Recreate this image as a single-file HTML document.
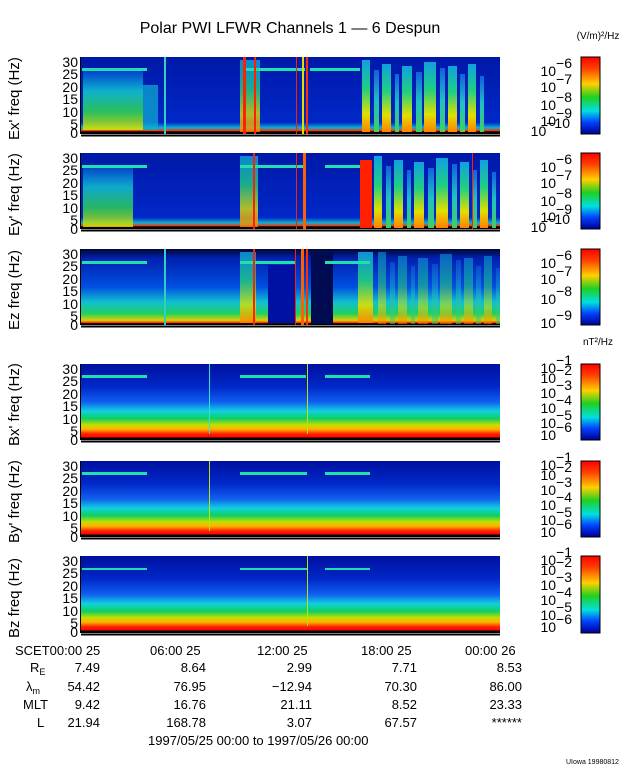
<!DOCTYPE html>
<html><head><meta charset="utf-8"><style>
body{margin:0;background:#fff}
svg{display:block}
text{font-family:"Liberation Sans",sans-serif;fill:#000}
</style></head><body>
<svg width="640" height="768" viewBox="0 0 640 768" xmlns="http://www.w3.org/2000/svg">
<defs>
<linearGradient id="cb" x1="0" y1="0" x2="0" y2="1">
<stop offset="0" stop-color="#ff0000"/><stop offset="0.15" stop-color="#ff4000"/><stop offset="0.35" stop-color="#ffd000"/><stop offset="0.52" stop-color="#20d020"/><stop offset="0.7" stop-color="#00e0e0"/><stop offset="0.85" stop-color="#0040ff"/><stop offset="1" stop-color="#000090"/>
</linearGradient>
<linearGradient id="bg" x1="0" y1="0" x2="0" y2="1">
<stop offset="0" stop-color="#0010a0"/><stop offset="0.3" stop-color="#0028c8"/><stop offset="0.5" stop-color="#1060f0"/><stop offset="0.62" stop-color="#10d0e0"/><stop offset="0.72" stop-color="#10d060"/><stop offset="0.8" stop-color="#c0e000"/><stop offset="0.86" stop-color="#ffb000"/><stop offset="0.92" stop-color="#ff2000"/><stop offset="0.97" stop-color="#ff0000"/><stop offset="0.97" stop-color="#000"/><stop offset="1" stop-color="#000"/>
</linearGradient>
<linearGradient id="eg" x1="0" y1="0" x2="0" y2="1">
<stop offset="0" stop-color="#0018a8"/><stop offset="0.85" stop-color="#0028c8"/><stop offset="0.92" stop-color="#10b0d0"/><stop offset="0.96" stop-color="#ff3000"/><stop offset="0.97" stop-color="#000"/><stop offset="1" stop-color="#000"/>
</linearGradient>
<linearGradient id="e3" x1="0" y1="0" x2="0" y2="1">
<stop offset="0" stop-color="#000830"/><stop offset="0.12" stop-color="#0020b0"/><stop offset="0.5" stop-color="#0050e0"/><stop offset="0.7" stop-color="#10c0d0"/><stop offset="0.85" stop-color="#20d060"/><stop offset="0.94" stop-color="#e0d000"/><stop offset="0.97" stop-color="#ff3000"/><stop offset="0.98" stop-color="#000"/>
</linearGradient>
<linearGradient id="act" x1="0" y1="0" x2="0" y2="1">
<stop offset="0" stop-color="#10a0e0"/><stop offset="0.4" stop-color="#20d080"/><stop offset="0.75" stop-color="#e0e000"/><stop offset="1" stop-color="#ff8000"/>
</linearGradient>
<linearGradient id="act2" x1="0" y1="0" x2="0" y2="1">
<stop offset="0" stop-color="#1060e0"/><stop offset="0.5" stop-color="#20c0c0"/><stop offset="1" stop-color="#40d060"/>
</linearGradient>
<linearGradient id="left" x1="0" y1="0" x2="0" y2="1">
<stop offset="0" stop-color="#0040d0"/><stop offset="0.35" stop-color="#10c0d0"/><stop offset="0.7" stop-color="#30d050"/><stop offset="1" stop-color="#e0e000"/>
</linearGradient>
<g id="str">
<rect x="0" y="0" width="8" height="72" fill="url(#act)"/>
<rect x="12" y="10" width="5" height="62" fill="url(#act2)"/>
<rect x="20" y="4" width="9" height="68" fill="url(#act)"/>
<rect x="33" y="14" width="4" height="58" fill="url(#act2)"/>
<rect x="40" y="6" width="10" height="66" fill="url(#act)"/>
<rect x="54" y="12" width="6" height="60" fill="url(#act2)"/>
<rect x="62" y="2" width="12" height="70" fill="url(#act)"/>
<rect x="78" y="8" width="5" height="64" fill="url(#act2)"/>
<rect x="86" y="6" width="9" height="66" fill="url(#act)"/>
<rect x="98" y="14" width="5" height="58" fill="url(#act2)"/>
<rect x="106" y="4" width="8" height="68" fill="url(#act)"/>
<rect x="118" y="16" width="4" height="56" fill="url(#act2)"/>
</g>
</defs>

<text x="290" y="33" font-size="16" text-anchor="middle">Polar PWI LFWR Channels 1 — 6 Despun</text>
<text x="598" y="39" font-size="10" text-anchor="middle">(V/m)²/Hz</text>
<text x="598" y="345" font-size="10" text-anchor="middle">nT²/Hz</text>

<!-- Panel 1 -->
<g>
<rect x="81" y="57" width="419" height="77" fill="url(#eg)"/>
<rect x="83" y="70" width="60" height="60" fill="url(#left)" opacity="0.9"/>
<rect x="143" y="85" width="15" height="45" fill="#10b0d0" opacity="0.7"/>
<rect x="240" y="60" width="20" height="72" fill="url(#act)" opacity="0.8"/>
<use href="#str" x="362" y="60"/>
<rect x="82" y="68" width="65" height="3" fill="#20e0b0"/>
<rect x="245" y="68" width="60" height="3" fill="#20e0b0"/>
<rect x="310" y="68" width="50" height="3" fill="#20e0b0"/>
<rect x="243" y="57" width="3" height="77" fill="#ff2000"/>
<rect x="254" y="57" width="2" height="77" fill="#ff2000"/>
<rect x="296" y="57" width="1" height="77" fill="#ff2000"/>
<rect x="302" y="57" width="2" height="77" fill="#e0e000"/>
<rect x="306" y="57" width="2" height="77" fill="#ff3000"/>
<rect x="164" y="57" width="2" height="77" fill="#30d0c0"/>
</g>
<!-- Panel 2 -->
<g>
<rect x="81" y="153" width="419" height="76" fill="url(#eg)"/>
<rect x="83" y="165" width="50" height="62" fill="url(#left)" opacity="0.85"/>
<rect x="240" y="156" width="18" height="71" fill="url(#act)" opacity="0.8"/>
<use href="#str" x="374" y="156"/>
<rect x="360" y="160" width="12" height="68" fill="#ff2000"/>
<rect x="82" y="165" width="65" height="3" fill="#20e0b0"/>
<rect x="240" y="165" width="65" height="3" fill="#20e0b0"/>
<rect x="325" y="165" width="35" height="3" fill="#20e0b0"/>
<rect x="253" y="153" width="2" height="76" fill="#ff2000"/>
<rect x="296" y="153" width="1" height="76" fill="#ff2000"/>
<rect x="303" y="153" width="3" height="76" fill="#ff6000"/>
<rect x="472" y="153" width="1" height="76" fill="#ff2000"/>
</g>
<!-- Panel 3 -->
<g>
<rect x="81" y="249" width="419" height="76" fill="url(#e3)"/>
<rect x="268" y="265" width="28" height="58" fill="#0010a0"/>
<rect x="311" y="252" width="22" height="72" fill="#000a50"/>
<rect x="240" y="252" width="16" height="71" fill="url(#act)" opacity="0.8"/>
<rect x="358" y="252" width="15" height="71" fill="url(#act)" opacity="0.9"/>
<use href="#str" x="378" y="252" opacity="0.55"/>
<rect x="82" y="261" width="65" height="3" fill="#20e0b0"/>
<rect x="240" y="261" width="55" height="3" fill="#20e0b0"/>
<rect x="325" y="261" width="45" height="3" fill="#20e0b0"/>
<rect x="253" y="249" width="2" height="76" fill="#ff2000"/>
<rect x="295" y="249" width="1" height="76" fill="#ff2000"/>
<rect x="301" y="249" width="3" height="76" fill="#ff6000"/>
<rect x="306" y="249" width="2" height="76" fill="#ff3000"/>
<rect x="164" y="249" width="2" height="76" fill="#30d0c0"/>
</g>
<!-- B panels -->
<g>
<rect x="81" y="364" width="419" height="76" fill="url(#bg)"/>
<rect x="82" y="375" width="65" height="3" fill="#20e0b0"/>
<rect x="240" y="375" width="66" height="3" fill="#20e0b0"/>
<rect x="325" y="375" width="45" height="3" fill="#20e0b0"/>
<rect x="209" y="364" width="1" height="70" fill="#30e0d0"/>
<rect x="307" y="364" width="1" height="70" fill="#c0e000"/>
<rect x="81" y="461" width="419" height="76" fill="url(#bg)"/>
<rect x="82" y="472" width="65" height="3" fill="#20e0b0"/>
<rect x="240" y="472" width="67" height="3" fill="#20e0b0"/>
<rect x="325" y="472" width="45" height="3" fill="#20e0b0"/>
<rect x="209" y="461" width="1" height="70" fill="#c0e000"/>
<rect x="81" y="556" width="419" height="77" fill="url(#bg)"/>
<rect x="82" y="568" width="65" height="2" fill="#20e0b0"/>
<rect x="240" y="568" width="67" height="2" fill="#20e0b0"/>
<rect x="325" y="568" width="45" height="2" fill="#20e0b0"/>
<rect x="307" y="556" width="1" height="70" fill="#c0e000"/>
</g>

<!-- axes, ticks -->
<g stroke="#000" stroke-width="1" fill="none">
<path d="M80.5 57V134M80.5 153V229M80.5 249V325M80.5 364V440M80.5 461V537M80.5 556V633"/>
<path d="M81 135.5H500M81 230.5H500M81 326.5H500M81 441.5H500M81 538.5H500M81 634.5H500" stroke-width="2"/>
</g>

<g font-size="14" text-anchor="end">
<g id="yl">
<text x="78" y="67">30</text><text x="78" y="79">25</text><text x="78" y="92">20</text><text x="78" y="104">15</text><text x="78" y="117">10</text><text x="78" y="129">5</text><text x="78" y="138">0</text>
</g>
<use href="#yl" y="96"/><use href="#yl" y="192"/><use href="#yl" y="307"/><use href="#yl" y="404"/><use href="#yl" y="499"/>
</g>
<g font-size="15">
<text transform="translate(19,140) rotate(-90)">Ex' freq (Hz)</text>
<text transform="translate(19,236) rotate(-90)">Ey' freq (Hz)</text>
<text transform="translate(19,330) rotate(-90)">Ez freq (Hz)</text>
<text transform="translate(19,446) rotate(-90)">Bx' freq (Hz)</text>
<text transform="translate(19,543) rotate(-90)">By' freq (Hz)</text>
<text transform="translate(19,638) rotate(-90)">Bz freq (Hz)</text>
</g>

<!-- colorbars -->
<g stroke="#000" stroke-width="1">
<rect x="581" y="57" width="19" height="77" fill="url(#cb)"/>
<rect x="581" y="153" width="19" height="76" fill="url(#cb)"/>
<rect x="581" y="249" width="19" height="76" fill="url(#cb)"/>
<rect x="581" y="364" width="19" height="76" fill="url(#cb)"/>
<rect x="581" y="461" width="19" height="76" fill="url(#cb)"/>
<rect x="581" y="556" width="19" height="77" fill="url(#cb)"/>
</g>
<g font-size="14" text-anchor="end">
<g id="ce"><text x="572" y="76">10<tspan dy="-8">−6</tspan></text>
<text x="572" y="92">10<tspan dy="-8">−7</tspan></text>
<text x="572" y="110">10<tspan dy="-8">−8</tspan></text>
<text x="572" y="126">10<tspan dy="-8">−9</tspan></text>
<text x="570" y="136">10<tspan dy="-8">−10</tspan></text></g>
<use href="#ce" y="96"/>
<text x="572" y="268">10<tspan dy="-8">−6</tspan></text>
<text x="572" y="284">10<tspan dy="-8">−7</tspan></text>
<text x="572" y="304">10<tspan dy="-8">−8</tspan></text>
<text x="572" y="328">10<tspan dy="-8">−9</tspan></text>
<g id="cbb"><text x="572" y="373">10<tspan dy="-8">−1</tspan></text>
<text x="572" y="383">10<tspan dy="-8">−2</tspan></text>
<text x="572" y="398">10<tspan dy="-8">−3</tspan></text>
<text x="572" y="413">10<tspan dy="-8">−4</tspan></text>
<text x="572" y="428">10<tspan dy="-8">−5</tspan></text>
<text x="572" y="440">10<tspan dy="-8">−6</tspan></text></g>
<use href="#cbb" y="97"/><use href="#cbb" y="192"/>
</g>

<!-- bottom -->
<g font-size="13">
<text x="15" y="655">SCET00:00 25</text>
<text x="150" y="655">06:00 25</text>
<text x="257" y="655">12:00 25</text>
<text x="361" y="655">18:00 25</text>
<text x="465" y="655">00:00 26</text>
<text x="30" y="672">R<tspan font-size="9" dy="3">E</tspan></text>
<text x="26" y="691">λ<tspan font-size="9" dy="3">m</tspan></text>
<text x="23" y="709">MLT</text>
<text x="37" y="727">L</text>
<g text-anchor="end">
<text x="100" y="672">7.49</text><text x="206" y="672">8.64</text><text x="312" y="672">2.99</text><text x="417" y="672">7.71</text><text x="522" y="672">8.53</text>
<text x="100" y="691">54.42</text><text x="206" y="691">76.95</text><text x="312" y="691">−12.94</text><text x="417" y="691">70.30</text><text x="522" y="691">86.00</text>
<text x="100" y="709">9.42</text><text x="206" y="709">16.76</text><text x="312" y="709">21.11</text><text x="417" y="709">8.52</text><text x="522" y="709">23.33</text>
<text x="100" y="727">21.94</text><text x="206" y="727">168.78</text><text x="312" y="727">3.07</text><text x="417" y="727">67.57</text><text x="522" y="727">******</text>
</g>
<text x="148" y="745">1997/05/25 00:00 to 1997/05/26 00:00</text>
</g>
<text x="566" y="764" font-size="7">UIowa 19980812</text>
</svg>
</body></html>
